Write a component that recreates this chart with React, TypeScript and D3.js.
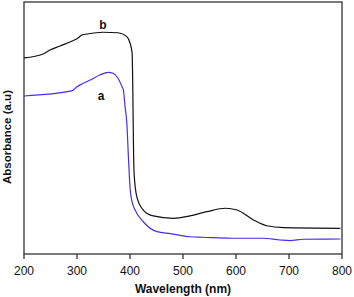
import { scaleLinear, line, curveMonotoneX } from "d3"

// wavelength (nm) and absorbance values
const waveB = [200, 236, 249, 268, 292, 302, 309, 319, 349, 377, 394, 400, 404, 405.3, 406.4, 407.7, 412.8, 425, 444, 482, 513, 545, 580, 602, 633, 658, 690, 797]
const absB = [1.556, 1.587, 1.619, 1.651, 1.693, 1.714, 1.738, 1.746, 1.76, 1.756, 1.725, 1.675, 1.595, 1.302, 0.905, 0.643, 0.455, 0.349, 0.302, 0.283, 0.302, 0.336, 0.363, 0.349, 0.27, 0.224, 0.209, 0.204]

const waveA = [200, 290, 300, 309, 325, 343, 359, 368, 377, 385, 387.5, 390.7, 394, 397, 400.2, 404, 409.6, 425, 451, 476, 513, 538, 602, 651, 683, 702, 727, 797]
const absA = [1.254, 1.294, 1.328, 1.349, 1.381, 1.421, 1.442, 1.434, 1.397, 1.328, 1.302, 1.169, 1.04, 0.772, 0.52, 0.413, 0.349, 0.256, 0.177, 0.162, 0.137, 0.133, 0.125, 0.125, 0.111, 0.106, 0.117, 0.119]

const xTicks = [200, 300, 400, 500, 600, 700, 800]

const App = () => {
  const width = 354
  const height = 297
  const left = 24
  const right = 342
  const top = 2
  const bottom = 254

  const xScale = scaleLinear().domain([200, 800]).range([left, right])
  const yScale = scaleLinear().domain([0, 2]).range([bottom, top])

  const makePath = (w: number[], a: number[]) =>
    line<number>()
      .x((_, i) => xScale(w[i]))
      .y((_, i) => yScale(a[i]))
      .curve(curveMonotoneX)(w) || ""

  const font = "'Liberation Sans', Arial, sans-serif"

  return (
    <svg width={width} height={height} style={{ position: "absolute", left: 0, top: 0 }} fontFamily={font}>
      <rect x={0} y={0} width={width} height={height} fill="#fff" />
      {/* frame */}
      <rect x={left} y={top} width={right - left} height={bottom - top} fill="none" stroke="#333" strokeWidth={1.3} />
      {xTicks.map(t => (
        <g key={t}>
          <line x1={xScale(t)} x2={xScale(t)} y1={bottom} y2={bottom + 5} stroke="#333" strokeWidth={1.3} />
          <text x={xScale(t)} y={274.5} textAnchor="middle" fontSize={12} fill="#111">{t}</text>
        </g>
      ))}
      <path d={makePath(waveA, absA)} fill="none" stroke="#4a2cf0" strokeWidth={1.2} />
      <path d={makePath(waveB, absB)} fill="none" stroke="#111" strokeWidth={1.2} />
      <text x={103} y={29} textAnchor="middle" fontSize={12} fontWeight="bold" fill="#111">b</text>
      <text x={101} y={100} textAnchor="middle" fontSize={12} fontWeight="bold" fill="#111">a</text>
      <text x={(left + right) / 2} y={293} textAnchor="middle" fontSize={12} fontWeight="bold" fill="#111">Wavelength (nm)</text>
      <text transform={`translate(11, 137) rotate(-90)`} textAnchor="middle" fontSize={11.5} fontWeight="bold" fill="#111">Absorbance (a.u)</text>
    </svg>
  )
}

export default App
